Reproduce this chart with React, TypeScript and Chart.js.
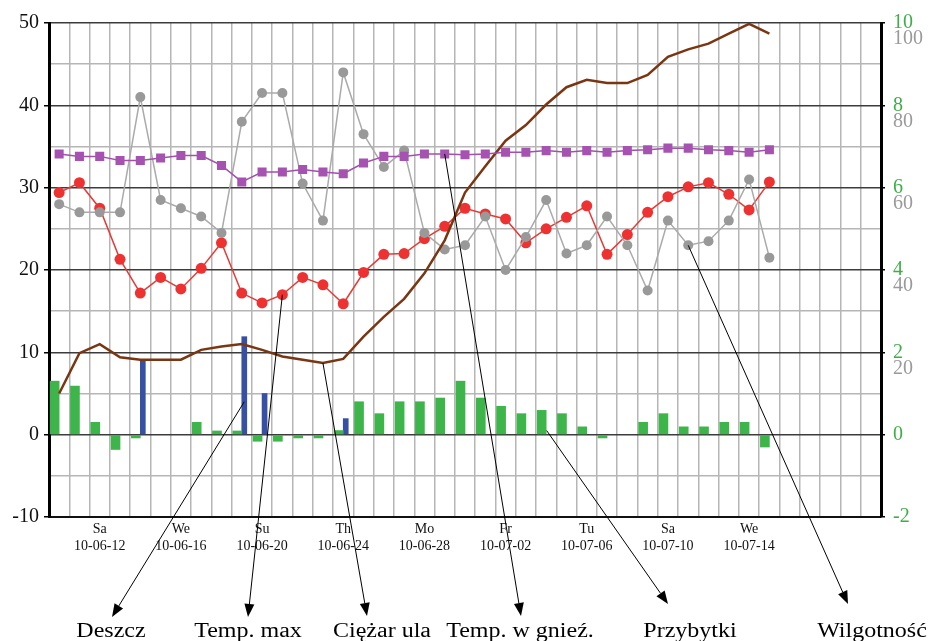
import React, { useEffect, useRef } from 'react';
import { Chart, registerables } from 'chart.js';

Chart.register(...registerables);

// ---------- data ----------
const DATES = [
  '10-06-10', '10-06-11', '10-06-12', '10-06-13', '10-06-14', '10-06-15', '10-06-16', '10-06-17',
  '10-06-18', '10-06-19', '10-06-20', '10-06-21', '10-06-22', '10-06-23', '10-06-24', '10-06-25',
  '10-06-26', '10-06-27', '10-06-28', '10-06-29', '10-06-30', '10-07-01', '10-07-02', '10-07-03',
  '10-07-04', '10-07-05', '10-07-06', '10-07-07', '10-07-08', '10-07-09', '10-07-10', '10-07-11',
  '10-07-12', '10-07-13', '10-07-14', '10-07-15', '10-07-16', '10-07-17', '10-07-18', '10-07-19',
  '10-07-20',
];
const TICK_DATES = ['10-06-12', '10-06-16', '10-06-20', '10-06-24', '10-06-28', '10-07-02', '10-07-06', '10-07-10', '10-07-14'];
const TICK_DAYS = ['Sa', 'We', 'Su', 'Th', 'Mo', 'Fr', 'Tu', 'Sa', 'We'];

// Temp. w gnieździe (°C, left axis)
const NEST_TEMP = [34.1, 33.8, 33.8, 33.3, 33.3, 33.6, 33.9, 33.9, 32.7, 30.7, 31.9, 31.9, 32.2, 31.9, 31.7, 33.0, 33.8, 33.8,
  34.1, 34.1, 34.0, 34.1, 34.3, 34.3, 34.5, 34.3, 34.5, 34.3, 34.5, 34.6, 34.8, 34.8, 34.6, 34.5, 34.3, 34.6];
// Temp. max (°C, left axis)
const MAX_TEMP = [29.4, 30.6, 27.5, 21.3, 17.2, 19.1, 17.7, 20.2, 23.3, 17.2, 16.0, 17.0, 19.1, 18.2, 15.9, 19.7, 21.9, 22.0,
  23.8, 25.3, 27.5, 26.8, 26.2, 23.3, 25.0, 26.4, 27.8, 21.9, 24.3, 27.0, 28.9, 30.1, 30.6, 29.2, 27.3, 30.7];
// Wilgotność (%, grey right axis)
const HUMIDITY = [56, 54, 54, 54, 82, 57, 55, 53, 49, 76, 83, 83, 61, 52, 88, 73, 65, 69,
  49, 45, 46, 53, 40, 48, 57, 44, 46, 53, 46, 35, 52, 46, 47, 52, 62, 43];
// Ciężar ula (left axis)
const HIVE_WEIGHT = [5.0, 9.9, 11.0, 9.4, 9.1, 9.1, 9.1, 10.3, 10.7, 11.0, 10.3, 9.5, 9.1, 8.7, 9.2, 11.9, 14.3, 16.5,
  19.6, 23.6, 29.4, 32.6, 35.7, 37.6, 40.1, 42.2, 43.1, 42.7, 42.7, 43.7, 45.9, 46.8, 47.5, 48.7, 49.9, 48.7];
// Przybytki (kg, green right axis)
const GAINS = [1.3, 1.18, 0.3, -0.36, -0.08, null, null, 0.3, 0.09, 0.09, -0.16, -0.16, -0.08, -0.08, 0.1, 0.8, 0.51, 0.8,
  0.8, 0.89, 1.3, 0.89, 0.69, 0.51, 0.59, 0.51, 0.19, -0.08, null, 0.3, 0.51, 0.19, 0.19, 0.3, 0.3, -0.3];
// Deszcz (mm, left axis)
const RAIN = [null, null, null, null, 9.0, null, null, null, null, 11.9, 5.0, null, null, null, 1.95];

const GREY_TICK_LABELS = [20, 40, 60, 80, 100];
const ANNOTATION_LABELS = ['Deszcz', 'Temp. max', 'Ciężar ula', 'Temp. w gnieź.', 'Przybytki', 'Wilgotność'];

// ---------- styling ----------
const SERIF = '"Liberation Serif", "Times New Roman", serif';
const GREEN_TEXT = '#3fae49';
const GREY_TEXT = '#9a9a9a';

// annotation geometry (source = dataset element, tip/text = fixed layout positions)
const ANNOT = [
  { ds: 5, idx: 9, axis: 'y', yVal: 4, dx: 0, tip: [112, 617], text: [111, 637] },
  { ds: 3, idx: 11, tip: [248, 617], text: [248, 637] },
  { ds: 1, idx: 13, tip: [367, 616], text: [382, 637] },
  { ds: 0, idx: 19, tip: [521, 616], text: [520, 637] },
  { ds: 4, idx: 24, axis: 'yG', yVal: 0.1, dx: 5, tip: [668, 604], text: [690, 637] },
  { ds: 2, idx: 31, tip: [848, 604], text: [872, 637] },
];

function drawArrow(ctx: CanvasRenderingContext2D, x1: number, y1: number, x2: number, y2: number) {
  const ang = Math.atan2(y2 - y1, x2 - x1);
  const hl = 13, hw = 5;
  const bx = x2 - hl * Math.cos(ang);
  const by = y2 - hl * Math.sin(ang);
  ctx.beginPath();
  ctx.moveTo(x1, y1);
  ctx.lineTo(bx, by);
  ctx.stroke();
  ctx.beginPath();
  ctx.moveTo(x2, y2);
  ctx.lineTo(bx + hw * Math.sin(ang), by - hw * Math.cos(ang));
  ctx.lineTo(bx - hw * Math.sin(ang), by + hw * Math.cos(ang));
  ctx.closePath();
  ctx.fill();
}

const extrasPlugin = {
  id: 'extras',
  afterDraw(chart: any) {
    const ctx: CanvasRenderingContext2D = chart.ctx;
    // grey humidity labels under the green ones
    const yH = chart.scales.yH;
    const yG = chart.scales.yG;
    ctx.save();
    ctx.font = `20px ${SERIF}`;
    ctx.fillStyle = GREY_TEXT;
    ctx.textAlign = 'left';
    ctx.textBaseline = 'middle';
    GREY_TICK_LABELS.forEach((v) => {
      ctx.fillText(String(v), yG.left + 12, yH.getPixelForValue(v) + 16);
    });
    ctx.restore();

    // arrows + labels
    ctx.save();
    ctx.strokeStyle = '#000';
    ctx.fillStyle = '#000';
    ctx.lineWidth = 1;
    ANNOT.forEach((a, i) => {
      const el = chart.getDatasetMeta(a.ds).data[a.idx];
      if (!el) return;
      let x = el.x + (a.dx || 0);
      let y = el.y;
      if (a.axis) y = chart.scales[a.axis].getPixelForValue(a.yVal);
      drawArrow(ctx, x, y, a.tip[0], a.tip[1]);
      ctx.save();
      ctx.translate(a.text[0], a.text[1]);
      ctx.scale(1.2, 1);
      ctx.font = `20px ${SERIF}`;
      ctx.textAlign = 'center';
      ctx.textBaseline = 'alphabetic';
      ctx.fillText(ANNOTATION_LABELS[i], 0, 0);
      ctx.restore();
    });
    ctx.restore();
  },
};

export default function App() {
  const ref = useRef<HTMLCanvasElement | null>(null);

  useEffect(() => {
    if (!ref.current) return;
    const chart = new Chart(ref.current, {
      type: 'bar',
      data: {
        labels: DATES,
        datasets: [
          {
            type: 'line', label: 'Temp. w gnieź.', data: NEST_TEMP, yAxisID: 'y', order: 0,
            borderColor: '#a24fae', backgroundColor: '#a552b0', borderWidth: 1.5,
            pointStyle: 'rect', pointRadius: 6.4, pointBorderWidth: 0, tension: 0,
          },
          {
            type: 'line', label: 'Ciężar ula', data: HIVE_WEIGHT, yAxisID: 'y', order: 1,
            borderColor: '#7a3612', borderWidth: 2.5, pointRadius: 0, tension: 0,
          },
          {
            type: 'line', label: 'Wilgotność', data: HUMIDITY, yAxisID: 'yH', order: 2,
            borderColor: '#aaaaaa', backgroundColor: '#999999', borderWidth: 1.5,
            pointRadius: 5, pointBorderWidth: 0, tension: 0,
          },
          {
            type: 'line', label: 'Temp. max', data: MAX_TEMP, yAxisID: 'y', order: 3,
            borderColor: '#e63a36', backgroundColor: '#ee3232', borderWidth: 1.5,
            pointRadius: 5.5, pointBorderWidth: 0, tension: 0,
          },
          {
            type: 'bar', label: 'Przybytki', data: GAINS, yAxisID: 'yG', order: 4,
            backgroundColor: '#3db54a', barThickness: 9, borderWidth: 0,
          },
          {
            type: 'bar', label: 'Deszcz', data: RAIN, yAxisID: 'y', order: 5,
            backgroundColor: '#3550a4', barThickness: 5, borderWidth: 0,
          },
        ] as any,
      },
      options: {
        responsive: false,
        animation: false,
        devicePixelRatio: 1,
        layout: { padding: { top: 23, left: 0, right: 0, bottom: 0 } },
        plugins: { legend: { display: false }, tooltip: { enabled: false } },
        scales: {
          x: {
            offset: true,
            grid: { offset: true, color: '#b6b6b6', lineWidth: 1.5, drawTicks: false },
            border: { color: '#111', width: 2 },
            ticks: {
              autoSkip: false, maxRotation: 0, minRotation: 0, padding: 4,
              color: '#111', font: { family: SERIF, size: 14 },
              callback: (_v: any, idx: number) => {
                const k = TICK_DATES.indexOf(DATES[idx]);
                return k >= 0 ? [TICK_DAYS[k], TICK_DATES[k]] : '';
              },
            },
            afterFit: (s: any) => { s.height = 124; },
          },
          y: {
            position: 'left', min: -10, max: 50,
            ticks: {
              stepSize: 5, padding: 5, color: '#111', font: { family: SERIF, size: 20 },
              callback: (v: any) => (Number(v) % 10 === 0 ? String(v) : ''),
            },
            grid: {
              color: (c: any) => (c.tick && c.tick.value % 10 === 0 ? '#3c3c3c' : '#b6b6b6'),
              tickColor: (c: any) => (c.tick && c.tick.value % 10 === 0 ? '#000' : 'rgba(0,0,0,0)'),
              lineWidth: 1.5, tickLength: 5,
            },
            border: { color: '#000', width: 3 },
            afterFit: (s: any) => { s.width = 49; },
          },
          yG: {
            position: 'right', min: -2, max: 10,
            ticks: { stepSize: 2, padding: 8, color: GREEN_TEXT, font: { family: SERIF, size: 20 } },
            grid: { drawOnChartArea: false, color: '#000', tickLength: 4, lineWidth: 1.5 },
            border: { color: '#000', width: 3 },
            afterFit: (s: any) => { s.width = 48; },
          },
          yH: {
            display: false, position: 'right', min: -20, max: 100,
          },
        },
      } as any,
      plugins: [extrasPlugin],
    });
    return () => chart.destroy();
  }, []);

  return (
    <div style={{ position: 'fixed', left: 0, top: 0, width: 929, height: 641, background: '#fff' }}>
      <canvas ref={ref} width={929} height={641} style={{ display: 'block', width: 929, height: 641 }} />
    </div>
  );
}
